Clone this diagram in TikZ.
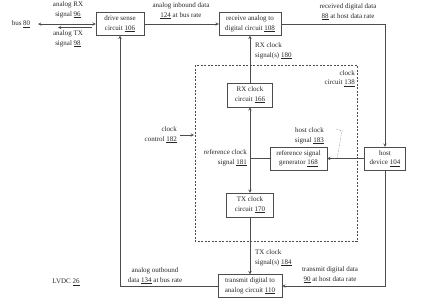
\documentclass[tikz,border=0pt]{standalone}
\usepackage{fontspec}
\setmainfont{Liberation Serif}
\usetikzlibrary{arrows}
\tikzstyle{block} = [
    rectangle,
    draw=black!70,
    text=black!85,
    align=center,
    inner sep=1pt,
    font=\fontsize{7}{9.5}\selectfont
]
\tikzstyle{tag} = [
    text=black!85,
    inner sep=0pt,
    font=\fontsize{7}{9.5}\selectfont
]
\tikzstyle{arrow} = [draw=black!70,line width=0.5pt,->,>=stealth]
\tikzstyle{wire} = [draw=black!70,line width=0.5pt]

\begin{document}
\begin{tikzpicture}[x=1pt,y=-1pt]
\useasboundingbox (0,0) rectangle (442,303);

\node (drive) [block, minimum width=48pt, minimum height=23pt] at (120,24)
{drive sense\\circuit \underline{106}};

\node (receive) [block, minimum width=62pt, minimum height=23pt] at (250,24)
{receive analog to\\digital circuit \underline{108}};

\node (rxclock) [block, minimum width=45pt, minimum height=24pt] at (250,95)
{RX clock\\circuit \underline{166}};

\node (refgen) [block, minimum width=57pt, minimum height=23pt] at (298.5,158.5)
{reference signal\\generator \underline{168}};

\node (host) [block, minimum width=41pt, minimum height=23pt] at (385,158.5)
{host\\device \underline{104}};

\node (txclock) [block, minimum width=47pt, minimum height=24pt] at (250,205)
{TX clock\\circuit \underline{170}};

\node (transmit) [block, minimum width=64pt, minimum height=23pt] at (250,286)
{transmit digital to\\analog circuit \underline{110}};

\node (bus) [tag] at (21,24) {bus \underline{80}};

% clock circuit
\draw [wire, dash pattern=on 2pt off 1.5pt] (195,65) rectangle (357,241);
\node (clockckt) [tag, align=right, anchor=north east] at (355,70)
{clock\\circuit \underline{138}};
\coordinate (refjoin) at (250,158.5);
\coordinate (ctrlstart) at (180,135);
\coordinate (ctrlend) at (194,135);

% labels
\node (rxsig) [tag, align=center] at (68,10) {analog RX\\signal \underline{96}};
\node (txsig) [tag, align=center] at (68,39) {analog TX\\signal \underline{98}};
\node (inbound) [tag, align=center] at (181,11)
{analog inbound data\\\underline{124} at bus rate};
\node (received) [tag, align=center] at (348,12)
{received digital data\\\underline{88} at host data rate};
\node (rxclksig) [tag, align=left, anchor=west] at (255,51)
{RX clock\\signal(s) \underline{180}};
\node (ctrl) [tag, align=right, anchor=east] at (177,135)
{clock\\control \underline{182}};
\node (refsig) [tag, align=right, anchor=east] at (247,158)
{reference clock\\signal \underline{181}};
\node (hostsig) [tag, align=right, anchor=east] at (324,136)
{host clock\\signal \underline{183}};
\node (txclksig) [tag, align=left, anchor=west] at (255,258)
{TX clock\\signal(s) \underline{184}};
\node (txdata) [tag, align=center] at (330,275)
{transmit digital data\\\underline{90} at host data rate};
\node (outbound) [tag, align=center] at (155,276)
{analog outbound\\data \underline{134} at bus rate};
\node (lvdc) [tag] at (66,282) {LVDC \underline{26}};

% bus lines
\coordinate (busend) at (38,24);
\coordinate (txa) at (92,27.5);
\coordinate (txb) at (58,27.5);
\draw [arrow, <->] (busend) -- (drive.west);
\draw [arrow] (txa) -- (txb);

% data paths
\draw [arrow] (drive) -- (receive);
\draw [arrow] (receive.east) -| (host.north);
\draw [arrow] (rxclock) -- (receive);
\draw [arrow] (host) -- (refgen);
\draw [wire] (refgen.west) -- (refjoin);
\draw [arrow] (refjoin) -- (rxclock);
\draw [arrow] (refjoin) -- (txclock);
\draw [arrow] (txclock) -- (transmit);
\draw [arrow] (host.south) |- (transmit.east);
\draw [arrow] (transmit.west) -| (drive.south);
\draw [arrow] (ctrlstart) -- (ctrlend);

% leader
\coordinate (lead0) at (336,129);
\coordinate (lead1) at (342,131);
\coordinate (lead2) at (337,158.5);
\draw [wire, densely dotted, black!50] (lead0) -- (lead1) -- (lead2);

\end{tikzpicture}
\end{document}
